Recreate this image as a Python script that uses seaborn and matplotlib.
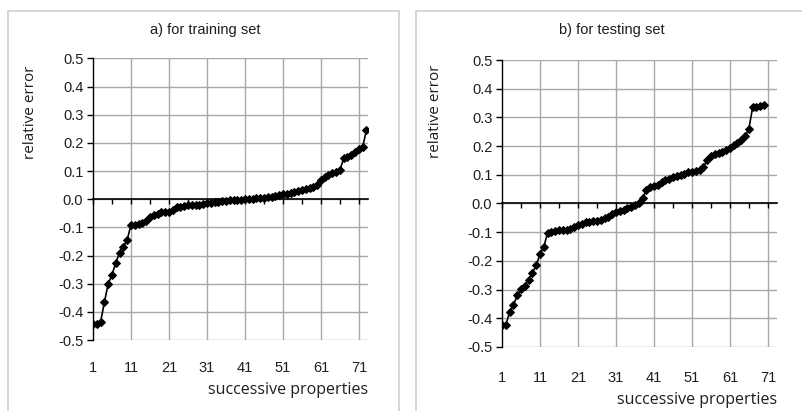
import numpy as np
import pandas as pd
import seaborn as sns
import matplotlib.pyplot as plt
from matplotlib.patches import Rectangle

# relative errors, sorted
train_err = [-0.444, -0.442, -0.435, -0.366, -0.300, -0.269, -0.225, -0.190, -0.170, -0.144,
             -0.091, -0.090, -0.089, -0.085, -0.076, -0.064, -0.056, -0.052, -0.047, -0.046,
             -0.045, -0.038, -0.028, -0.026, -0.024, -0.022, -0.021, -0.020, -0.019, -0.017,
             -0.015, -0.013, -0.011, -0.009, -0.007, -0.005, -0.004, -0.003, -0.002, -0.001,
             0.000, 0.001, 0.002, 0.003, 0.004, 0.005, 0.007, 0.009, 0.011, 0.014,
             0.017, 0.020, 0.023, 0.026, 0.030, 0.034, 0.038, 0.041, 0.044, 0.050,
             0.068, 0.080, 0.086, 0.092, 0.097, 0.104, 0.145, 0.151, 0.157, 0.169,
             0.180, 0.186, 0.246]

test_err = [-0.423, -0.422, -0.379, -0.355, -0.320, -0.298, -0.288, -0.265, -0.242, -0.215,
            -0.177, -0.151, -0.102, -0.099, -0.097, -0.094, -0.093, -0.091, -0.088, -0.081,
            -0.074, -0.070, -0.066, -0.063, -0.062, -0.060, -0.058, -0.051, -0.047, -0.035,
            -0.028, -0.026, -0.021, -0.016, -0.012, -0.005, 0.000, 0.018, 0.047, 0.058,
            0.061, 0.064, 0.076, 0.082, 0.087, 0.091, 0.096, 0.098, 0.103, 0.110,
            0.111, 0.112, 0.115, 0.126, 0.152, 0.166, 0.173, 0.175, 0.180, 0.187,
            0.193, 0.205, 0.210, 0.222, 0.234, 0.260, 0.337, 0.337, 0.339, 0.342]

panel_titles = ['a) for training set', 'b) for testing set']
x_ticks = [1, 11, 21, 31, 41, 51, 61, 71]
y_ticks = [-0.5, -0.4, -0.3, -0.2, -0.1, 0.0, 0.1, 0.2, 0.3, 0.4, 0.5]

sns.set_style('white')
plt.rcParams['font.family'] = ['Liberation Sans', 'DejaVu Sans']
plt.rcParams['axes.unicode_minus'] = False

TXT = '#1e1e1e'
GRID = '#a8a8a8'

fig = plt.figure(figsize=(8.02, 4.11), dpi=100)

# light frames around the two chart areas
for x0, x1 in [(8, 399), (416, 806)]:
    fig.patches.append(Rectangle((x0 / 802, -0.05), (x1 - x0) / 802, (411 - 11) / 411 + 0.05,
                                 transform=fig.transFigure, fill=False,
                                 edgecolor='#d0d0d0', linewidth=1.2))

axes_pos = [[93 / 802, 1 - 340 / 411, 275 / 802, 281.5 / 411],
            [502 / 802, 1 - 347 / 411, 275 / 802, 287 / 411]]
ylabel_xy = [(-0.2, 0.81), (-0.215, 0.82)]
title_xy = [(0.41, 1.10), (0.40, 1.105)]

for i, err in enumerate([train_err, test_err]):
    ax = fig.add_axes(axes_pos[i])
    df = pd.DataFrame({'n': np.arange(1, len(err) + 1), 'err': err})

    ax.set_xlim(1, 73.4)
    ax.set_ylim(-0.5, 0.5)
    for y in y_ticks:
        ax.axhline(y, color=GRID, lw=1.0, zorder=0)
    for x in x_ticks[1:]:
        ax.axvline(x, color=GRID, lw=1.0, zorder=0)

    sns.lineplot(data=df, x='n', y='err', ax=ax, color='black', lw=1.2,
                 marker='D', markersize=3.8, markeredgecolor='black', zorder=3)

    for s in ['top', 'right', 'bottom']:
        ax.spines[s].set_visible(False)
    ax.spines['left'].set_color('black')
    ax.spines['left'].set_linewidth(1.0)

    ax.set_yticks(y_ticks)
    ax.set_yticklabels([f'{v:.1f}' for v in y_ticks])
    ax.tick_params(axis='y', direction='out', length=4, width=1, color='black',
                   labelsize=10.5, labelcolor=TXT, pad=3, left=True)
    ax.set_xticks(x_ticks)
    ax.set_xticklabels([str(v) for v in x_ticks])
    ax.tick_params(axis='x', length=0, labelsize=10.5, labelcolor=TXT, pad=15 if i == 0 else 17)

    # horizontal axis line crossing at zero, with small tick marks pointing down
    zero_ax = ax.secondary_xaxis(0.5)
    zero_ax.set_xticks(list(range(1, 74, 5)))
    zero_ax.tick_params(direction='in', length=3.5, width=1, color='black', labelbottom=False,
                        labeltop=False)
    for s in zero_ax.spines.values():
        s.set_color('black')
        s.set_linewidth(1.2)

    ax.set_xlabel('successive properties', loc='right', fontsize=11.5, color=TXT,
                  family=['Open Sans', 'DejaVu Sans'], labelpad=5)
    ax.set_ylabel('relative error', fontsize=11, color=TXT,
                  family=['Open Sans', 'DejaVu Sans'])
    ax.yaxis.set_label_coords(*ylabel_xy[i])
    ax.text(title_xy[i][0], title_xy[i][1], panel_titles[i], transform=ax.transAxes,
            ha='center', va='center', fontsize=10.5, color=TXT)
    ax.grid(False)

fig.savefig('out.png', dpi=100, facecolor='white')
